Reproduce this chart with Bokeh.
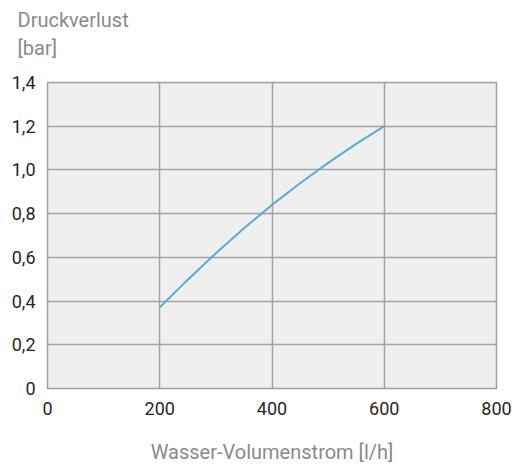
from bokeh.plotting import figure
from bokeh.models import FixedTicker, Range1d, Title
from bokeh.embed import file_html
from bokeh.resources import INLINE

flow = [200, 250, 300, 350, 400, 450, 500, 550, 600]
pressure = [0.371, 0.498, 0.619, 0.733, 0.840, 0.939, 1.032, 1.119, 1.2]
x_ticks = [0, 200, 400, 600, 800]
y_ticks = [0, 0.2, 0.4, 0.6, 0.8, 1.0, 1.2, 1.4]
y_tick_labels = ["0", "0,2", "0,4", "0,6", "0,8", "1,0", "1,2", "1,4"]
y_title_1 = "Druckverlust"
y_title_2 = "[bar]"
x_title = "Wasser-Volumenstrom [l/h]"

FONT = "Roboto"
GREY_TEXT = "#8a8a8a"
W, H = 513, 466
BL, BR, BT, BB = 47, 17, 82, 77

p = figure(width=W, height=H, output_backend="svg", toolbar_location=None,
           x_range=Range1d(0, 800), y_range=Range1d(0, 1.4), title=None,
           min_border_left=BL, min_border_right=BR, min_border_top=BT, min_border_bottom=BB)
p.background_fill_color = "#efefef"
p.border_fill_color = "white"
p.outline_line_color = "#a0a0a0"
p.outline_line_width = 1.5

for ax in (p.xaxis[0], p.yaxis[0]):
    ax.axis_line_color = None
    ax.major_tick_line_color = None
    ax.minor_tick_line_color = None
    ax.major_label_text_font = FONT
    ax.major_label_text_font_size = "18px"
    ax.major_label_text_color = "#262626"

p.xaxis.ticker = FixedTicker(ticks=x_ticks)
p.yaxis.ticker = FixedTicker(ticks=y_ticks)
p.yaxis.major_label_overrides = {t: l for t, l in zip(y_ticks, y_tick_labels)}
p.xaxis.major_label_standoff = 7
p.yaxis.major_label_standoff = 6

p.xaxis.axis_label = x_title
p.xaxis.axis_label_text_font = FONT
p.xaxis.axis_label_text_font_size = "20px"
p.xaxis.axis_label_text_font_style = "normal"
p.xaxis.axis_label_text_color = GREY_TEXT
p.xaxis.axis_label_standoff = 22

p.xgrid.ticker = FixedTicker(ticks=x_ticks)
p.ygrid.ticker = FixedTicker(ticks=y_ticks)
p.grid.grid_line_color = "#a3a3a3"
p.grid.grid_line_width = 1.5
p.grid.grid_line_alpha = 1.0

p.line(flow, pressure, line_color="#5aaad2", line_width=2)

t_style = dict(text_font=FONT, text_font_size="20px", text_font_style="normal",
               text_color=GREY_TEXT, align="left", offset=-30)
# spacer between the frame and the unit line
p.add_layout(Title(text=" ", text_font_size="1px", standoff=17), "above")
p.add_layout(Title(text=y_title_2, standoff=5, **t_style), "above")
p.add_layout(Title(text=y_title_1, standoff=0, **t_style), "above")

open("out.html", "w").write(file_html(p, INLINE))
